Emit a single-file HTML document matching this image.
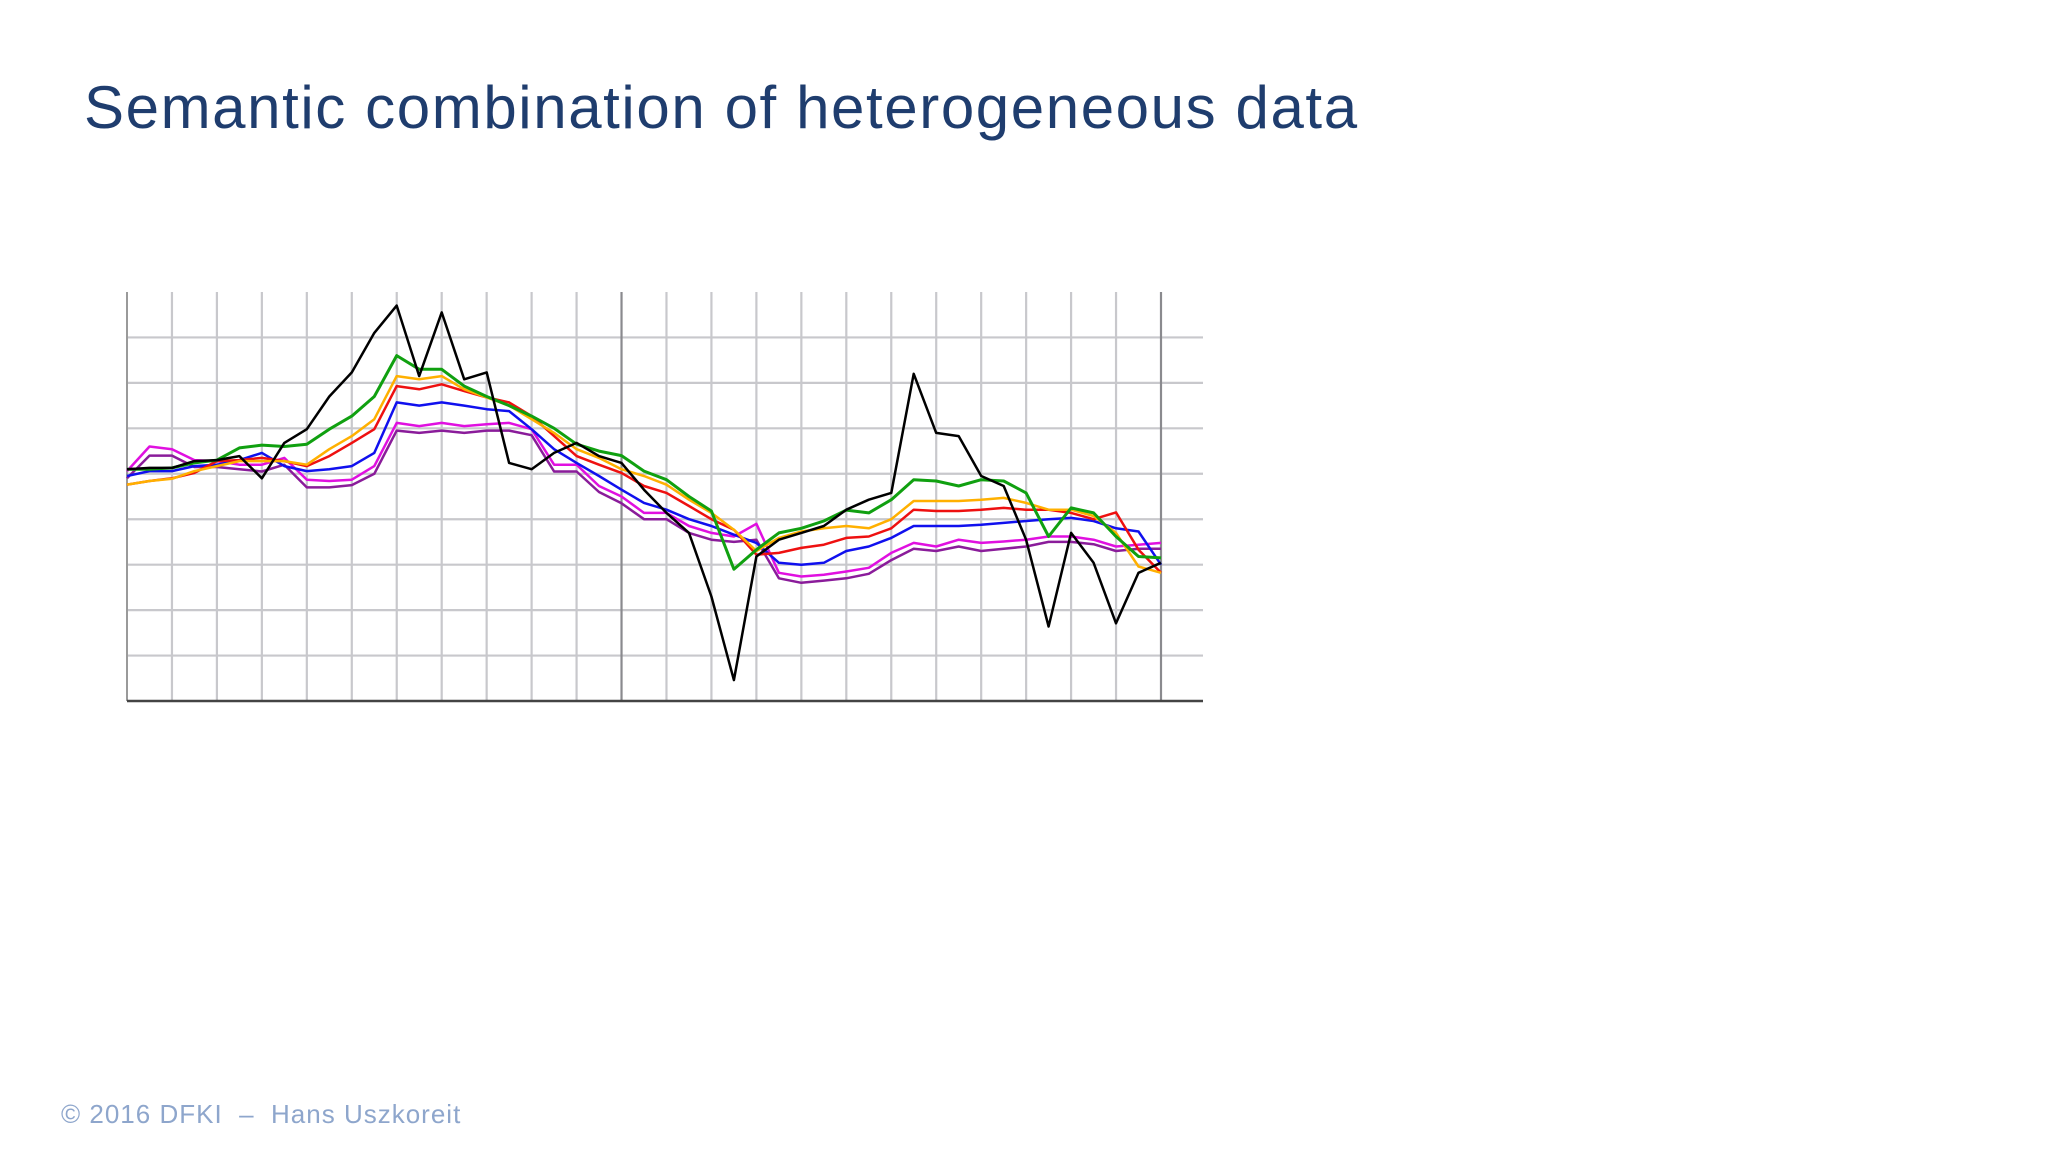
<!DOCTYPE html>
<html><head><meta charset="utf-8"><style>
html,body{margin:0;padding:0;background:#fff;}
body{width:2048px;height:1152px;position:relative;overflow:hidden;font-family:"Liberation Sans",sans-serif;}
#title{position:absolute;left:84px;top:73px;font-size:60px;color:#1f3d6e;white-space:nowrap;letter-spacing:1.6px;}
#footer{position:absolute;left:61px;top:1099px;font-size:26px;color:#8ea6cc;white-space:pre;letter-spacing:1px;}
svg{position:absolute;left:0;top:0;}
</style></head><body>
<div id="title">Semantic combination of heterogeneous data</div>
<svg id="chart" width="2048" height="1152"></svg>
<div id="footer">© 2016 DFKI  –  Hans Uszkoreit</div>
<script>
const xs=[0,0.5,1,1.5,2,2.5,3,3.5,4,4.5,5,5.5,6,6.5,7,7.5,8,8.5,9,9.5,10,10.5,11,11.5,12,12.5,13,13.5,14,14.5,15,15.5,16,16.5,17,17.5,18,18.5,19,19.5,20,20.5,21,21.5,22,22.5,23];
const purpleVals=[4.9,5.4,5.4,5.15,5.15,5.1,5.05,5.2,4.7,4.7,4.75,5.0,5.95,5.9,5.95,5.9,5.95,5.95,5.85,5.05,5.05,4.6,4.35,4.0,4.0,3.7,3.55,3.5,3.55,2.7,2.6,2.65,2.7,2.8,3.1,3.35,3.3,3.4,3.3,3.35,3.4,3.5,3.5,3.45,3.3,3.35,3.35];
const magentaVals=[5.06,5.6,5.54,5.3,5.28,5.2,5.2,5.35,4.87,4.84,4.87,5.17,6.12,6.05,6.12,6.05,6.09,6.12,5.98,5.2,5.2,4.73,4.5,4.14,4.14,3.85,3.7,3.62,3.9,2.82,2.74,2.78,2.85,2.93,3.26,3.48,3.4,3.55,3.48,3.51,3.55,3.62,3.62,3.55,3.4,3.44,3.48];
const blueVals=[4.95,5.06,5.06,5.17,5.2,5.3,5.46,5.17,5.06,5.1,5.17,5.46,6.57,6.5,6.57,6.5,6.42,6.38,5.98,5.54,5.24,4.95,4.65,4.36,4.21,4.0,3.85,3.66,3.48,3.04,3.0,3.04,3.3,3.4,3.59,3.85,3.85,3.85,3.88,3.92,3.96,4.0,4.03,3.96,3.8,3.73,3.0];
const redVals=[4.76,4.84,4.9,5.02,5.28,5.3,5.35,5.28,5.17,5.39,5.68,5.98,6.93,6.86,6.97,6.82,6.68,6.57,6.27,5.83,5.39,5.2,5.02,4.73,4.58,4.29,4.0,3.77,3.22,3.26,3.37,3.44,3.59,3.62,3.8,4.21,4.18,4.18,4.21,4.25,4.21,4.21,4.14,4.0,4.15,3.33,2.82];
const yellowVals=[4.76,4.84,4.89,5.06,5.17,5.28,5.28,5.28,5.2,5.54,5.83,6.2,7.15,7.08,7.15,6.86,6.68,6.5,6.2,5.9,5.54,5.35,5.1,4.95,4.76,4.43,4.14,3.77,3.3,3.59,3.73,3.8,3.85,3.8,4.0,4.4,4.4,4.4,4.43,4.47,4.36,4.21,4.21,4.07,3.7,2.96,2.82];
const greenVals=[5.1,5.1,5.13,5.24,5.3,5.57,5.63,5.6,5.65,5.98,6.27,6.7,7.6,7.3,7.3,6.93,6.7,6.5,6.27,6.0,5.65,5.5,5.4,5.06,4.87,4.5,4.18,2.9,3.33,3.7,3.8,3.96,4.2,4.14,4.43,4.87,4.84,4.73,4.87,4.84,4.58,3.62,4.25,4.14,3.62,3.18,3.15];
const blackVals=[5.1,5.13,5.13,5.28,5.3,5.39,4.9,5.68,5.98,6.7,7.23,8.1,8.7,7.15,8.55,7.08,7.23,5.24,5.1,5.46,5.68,5.39,5.24,4.65,4.14,3.7,2.3,0.46,3.18,3.55,3.7,3.85,4.21,4.43,4.58,7.2,5.9,5.83,4.95,4.73,3.55,1.64,3.7,3.04,1.71,2.82,3.04];
const series=[["purple-series",purpleVals,"#8a1c9a",2.5],["magenta-series",magentaVals,"#e010e0",2.5],["blue-series",blueVals,"#1010ee",2.5],["red-series",redVals,"#ee1010",2.5],["yellow-series",yellowVals,"#ffb000",2.5],["green-series",greenVals,"#10a010",3],["black-series",blackVals,"#000000",2.5]];
const nCols=23,nRows=9;
const X0=127,X1=1161,XR=1203,Y0=701,Y1=292;
const xS=c=>X0+c*(X1-X0)/nCols;
const yS=r=>Y0-r*(Y0-Y1)/nRows;
const svg=document.getElementById('chart');
const NS='http://www.w3.org/2000/svg';
function mk(t,a){const e=document.createElementNS(NS,t);for(const k in a)e.setAttribute(k,a[k]);svg.appendChild(e);return e;}
for(let r=1;r<nRows;r++){const l=mk('line',{x1:X0,x2:XR,y1:yS(r),y2:yS(r),stroke:'#c8c8cc','stroke-width':2.2});

}
for(let c=1;c<=nCols;c++){const dark=(c===11||c===23);const l=mk('line',{x1:xS(c),x2:xS(c),y1:Y1,y2:Y0,stroke:dark?'#8a8a8e':'#c8c8cc','stroke-width':2.2});

}
const ya=mk('line',{x1:X0,x2:X0,y1:Y1,y2:Y0,stroke:'#9a9a9a','stroke-width':2});


const xa=mk('line',{x1:X0,x2:XR,y1:Y0,y2:Y0,stroke:'#444','stroke-width':2.5});


for(const [name,vals,col,w] of series){
  const d=vals.map((v,i)=>(i?'L':'M')+xS(xs[i]).toFixed(1)+' '+yS(v).toFixed(1)).join(' ');
  const p=mk('path',{d:d,fill:'none',stroke:col,'stroke-width':w,'stroke-linejoin':'round'});
  
  
}
</script>
</body></html>
